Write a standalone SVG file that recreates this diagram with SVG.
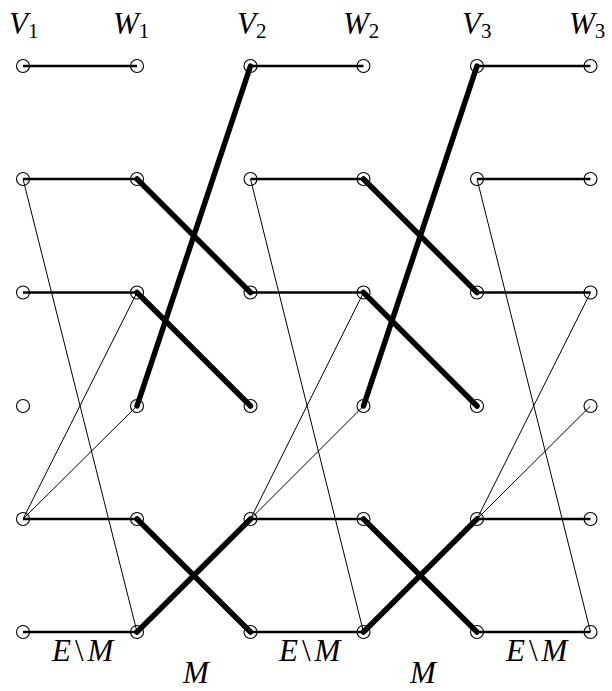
<svg xmlns="http://www.w3.org/2000/svg" width="612" height="691" viewBox="0 0 612 691">
<style>
.n{fill:none;stroke:#000;stroke-width:1.1}
.h{stroke:#000;stroke-width:2.4;fill:none}
.t{stroke:#000;stroke-width:1;fill:none}
.m{stroke:#000;stroke-width:5.5;fill:none;stroke-linecap:round}
.lab{font-family:"Liberation Serif","Times New Roman",serif;font-style:italic;font-size:31px;fill:#000}
.sub{font-style:normal;font-size:21px}
.op{font-style:normal}
</style>
<rect width="612" height="691" fill="#fff"/>
<g id="connectors">
<path class="h" d="M23 66H137M23 179H137M23 292.5H137M23 519H137M23 632H137"/>
<path class="h" d="M250.5 66H363.5M250.5 179H363.5M250.5 292.5H363.5M250.5 519H363.5M250.5 632H363.5"/>
<path class="h" d="M477 66H590.5M477 179H590.5M477 292.5H590.5M477 519H590.5M477 632H590.5"/>
<path class="t" d="M23 179L137 632M23 519L137 292.5M23 519L137 406"/>
<path class="t" d="M250.5 179L363.5 632M250.5 519L363.5 292.5M250.5 519L363.5 406"/>
<path class="t" d="M477 179L590.5 632M477 519L590.5 292.5M477 519L590.5 406"/>
<path class="m" d="M137 179L250.5 292.5M137 292.5L250.5 406M137 406L250.5 66M137 519L250.5 632M137 632L250.5 519"/>
<path class="m" d="M363.5 179L477 292.5M363.5 292.5L477 406M363.5 406L477 66M363.5 519L477 632M363.5 632L477 519"/>
</g>
<g id="V1">
<circle class="n" cx="23" cy="66" r="6.5"/><circle class="n" cx="23" cy="179" r="6.5"/><circle class="n" cx="23" cy="292.5" r="6.5"/><circle class="n" cx="23" cy="406" r="6.5"/><circle class="n" cx="23" cy="519" r="6.5"/><circle class="n" cx="23" cy="632" r="6.5"/>
<text class="lab" x="9" y="34">V<tspan class="sub" dy="4">1</tspan></text>
</g>
<g id="W1">
<circle class="n" cx="137" cy="66" r="6.5"/><circle class="n" cx="137" cy="179" r="6.5"/><circle class="n" cx="137" cy="292.5" r="6.5"/><circle class="n" cx="137" cy="406" r="6.5"/><circle class="n" cx="137" cy="519" r="6.5"/><circle class="n" cx="137" cy="632" r="6.5"/>
<text class="lab" x="113" y="34">W<tspan class="sub" dy="4">1</tspan></text>
</g>
<g id="V2">
<circle class="n" cx="250.5" cy="66" r="6.5"/><circle class="n" cx="250.5" cy="179" r="6.5"/><circle class="n" cx="250.5" cy="292.5" r="6.5"/><circle class="n" cx="250.5" cy="406" r="6.5"/><circle class="n" cx="250.5" cy="519" r="6.5"/><circle class="n" cx="250.5" cy="632" r="6.5"/>
<text class="lab" x="237" y="34">V<tspan class="sub" dy="4">2</tspan></text>
</g>
<g id="W2">
<circle class="n" cx="363.5" cy="66" r="6.5"/><circle class="n" cx="363.5" cy="179" r="6.5"/><circle class="n" cx="363.5" cy="292.5" r="6.5"/><circle class="n" cx="363.5" cy="406" r="6.5"/><circle class="n" cx="363.5" cy="519" r="6.5"/><circle class="n" cx="363.5" cy="632" r="6.5"/>
<text class="lab" x="343" y="34">W<tspan class="sub" dy="4">2</tspan></text>
</g>
<g id="V3">
<circle class="n" cx="477" cy="66" r="6.5"/><circle class="n" cx="477" cy="179" r="6.5"/><circle class="n" cx="477" cy="292.5" r="6.5"/><circle class="n" cx="477" cy="406" r="6.5"/><circle class="n" cx="477" cy="519" r="6.5"/><circle class="n" cx="477" cy="632" r="6.5"/>
<text class="lab" x="462" y="34">V<tspan class="sub" dy="4">3</tspan></text>
</g>
<g id="W3">
<circle class="n" cx="590.5" cy="66" r="6.5"/><circle class="n" cx="590.5" cy="179" r="6.5"/><circle class="n" cx="590.5" cy="292.5" r="6.5"/><circle class="n" cx="590.5" cy="406" r="6.5"/><circle class="n" cx="590.5" cy="519" r="6.5"/><circle class="n" cx="590.5" cy="632" r="6.5"/>
<text class="lab" x="569" y="34">W<tspan class="sub" dy="4">3</tspan></text>
</g>
<g id="labels">
<text class="lab" x="52" y="661">E<tspan class="op" dx="4">\</tspan><tspan dx="4">M</tspan></text>
<text class="lab" x="183" y="683">M</text>
<text class="lab" x="279" y="661">E<tspan class="op" dx="4">\</tspan><tspan dx="4">M</tspan></text>
<text class="lab" x="410" y="683">M</text>
<text class="lab" x="506" y="661">E<tspan class="op" dx="4">\</tspan><tspan dx="4">M</tspan></text>
</g>
</svg>
